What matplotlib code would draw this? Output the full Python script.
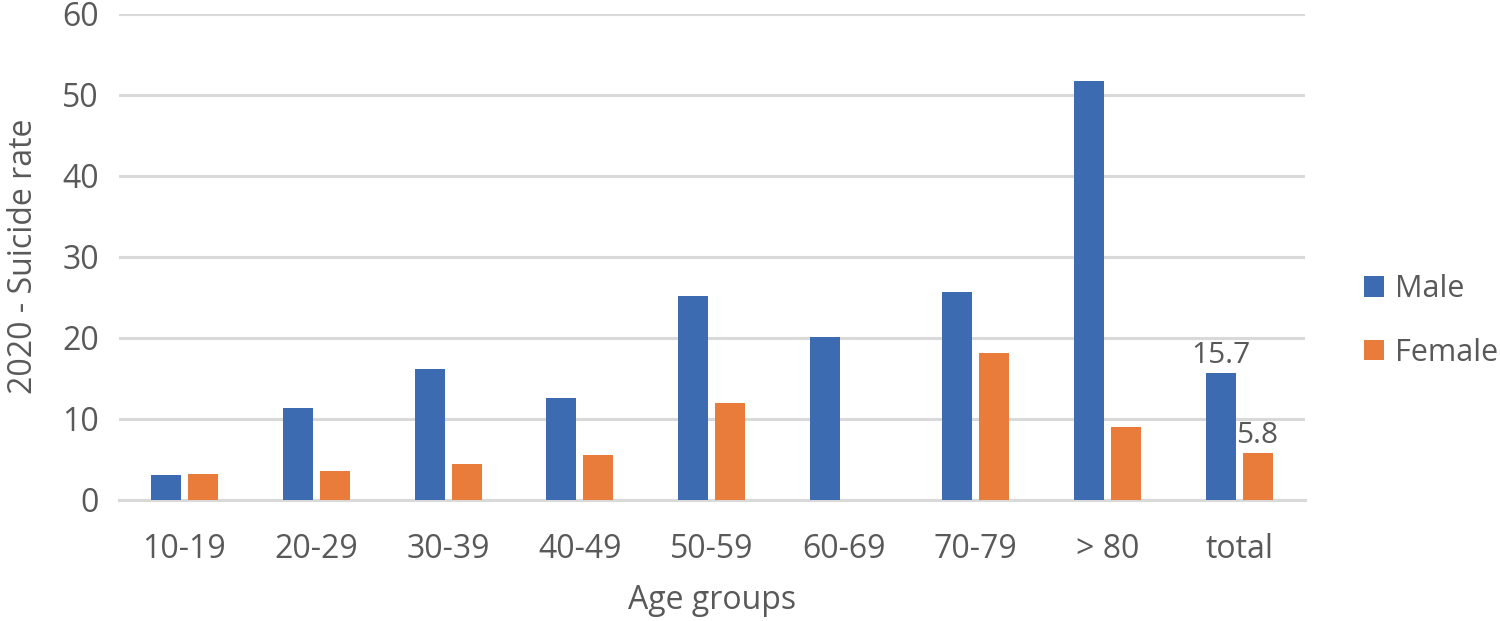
import matplotlib
matplotlib.use("Agg")
import matplotlib.pyplot as plt
import numpy as np

age_groups = ["10-19", "20-29", "30-39", "40-49", "50-59", "60-69", "70-79", "> 80", "total"]
male = [3.1, 11.4, 16.2, 12.6, 25.2, 20.1, 25.6, 51.7, 15.7]
female = [3.2, 3.6, 4.4, 5.6, 11.9, 0.0, 18.1, 9.0, 5.8]
y_ticks = [0, 10, 20, 30, 40, 50, 60]

BLUE = "#3C6BB2"
ORANGE = "#E97C3B"
TEXT = "#595959"
GRID = "#D9D9D9"

plt.rcParams["font.family"] = ["Open Sans", "DejaVu Sans"]

fig = plt.figure(figsize=(15, 6.21), dpi=100)
ax = fig.add_axes([0.079, 0.195, 0.791, 0.783])

x = np.arange(len(age_groups))
w = 0.228
off = 0.14
ax.bar(x - off, male, width=w, color=BLUE, label="Male", zorder=3)
ax.bar(x + off, female, width=w, color=ORANGE, label="Female", zorder=3)

# data labels only on the total group
ax.text(x[-1] - off, male[-1] + 0.3, f"{male[-1]}", ha="center", va="bottom", fontsize=21.5, color=TEXT)
ax.text(x[-1] + off, female[-1] + 0.3, f"{female[-1]}", ha="center", va="bottom", fontsize=21.5, color=TEXT)

ax.set_xlim(-0.5, len(age_groups) - 0.5)
ax.set_ylim(0, 60)
ax.set_yticks(y_ticks)
ax.set_xticks(x)
ax.set_xticklabels(age_groups)
ax.yaxis.grid(True, color=GRID, linewidth=2.2, zorder=0)
ax.set_axisbelow(True)
for side in ("top", "right", "left"):
    ax.spines[side].set_visible(False)
ax.spines["bottom"].set_color(GRID)
ax.spines["bottom"].set_linewidth(2.2)
ax.tick_params(axis="both", length=0, labelsize=23, colors=TEXT)
ax.tick_params(axis="x", pad=24)
ax.tick_params(axis="y", pad=14)

ax.set_xlabel("Age groups", fontsize=23, color=TEXT, labelpad=13)
ax.set_ylabel("2020 - Suicide rate", fontsize=23, color=TEXT, labelpad=16)

leg = ax.legend(loc="center left", bbox_to_anchor=(1.05, 0.368), frameon=False,
                fontsize=22, handlelength=0.65, handleheight=0.65, handletextpad=0.35,
                labelspacing=1.1, borderpad=0, borderaxespad=0)
for t in leg.get_texts():
    t.set_color(TEXT)

fig.savefig("out.png", dpi=100)
